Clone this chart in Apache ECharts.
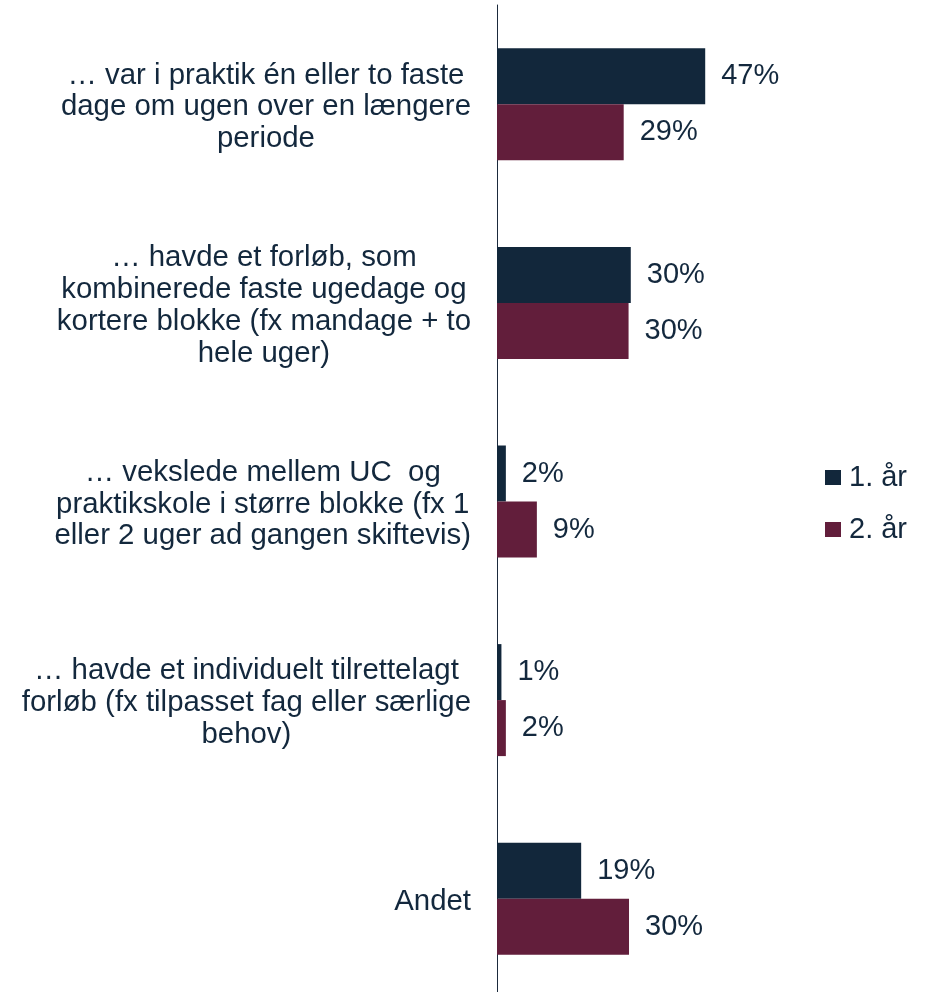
<!DOCTYPE html>
<html>
<head>
<meta charset="utf-8">
<script src="https://cdn.jsdelivr.net/npm/echarts@6/dist/echarts.min.js"></script>
<style>
  html, body { margin: 0; padding: 0; background: #fff; overflow: hidden; }
  #chart { width: 940px; height: 1000px; }
</style>
</head>
<body>
<div id="chart"></div>
<script>
// categories (top to bottom)
const categories = [
    '… var i praktik én eller to faste\ndage om ugen over en længere\nperiode',
    '… havde et forløb, som\nkombinerede faste ugedage og\nkortere blokke (fx mandage + to\nhele uger)',
    '… vekslede mellem UC  og\npraktikskole i større blokke (fx 1\neller 2 uger ad gangen skiftevis)',
    '… havde et individuelt tilrettelagt\nforløb (fx tilpasset fag eller særlige\nbehov)',
    'Andet'
]
const seriesNames = ['1. år', '2. år']
const year1 = [47.0, 30.2, 2.0, 1.0, 19.0]
const year2 = [28.6, 29.7, 9.0, 2.0, 29.8]

const textColor = '#13283d'
const font = 'Liberation Sans, Arial, sans-serif'
const colors = ['#12273b', '#621e3b']

const chart = echarts.init(document.getElementById('chart'))

function barSeries(name, data, color) {
    return {
        name: name,
        type: 'bar',
        data: data,
        barWidth: 56,
        barGap: '0%',
        itemStyle: { color: color },
        label: {
            show: true,
            position: 'right',
            distance: 16,
            color: textColor,
            fontFamily: font,
            fontSize: 29,
            formatter: p => Math.round(p.value) + '%'
        }
    }
}

const options = {
    animation: false,
    backgroundColor: '#fff',
    grid: {
        left: 497,
        top: 5,
        width: 443,
        height: 993
    },
    legend: {
        orient: 'vertical',
        left: 820,
        top: 458,
        icon: 'rect',
        itemWidth: 16,
        itemHeight: 15,
        itemGap: 23,
        textStyle: {
            color: textColor,
            fontFamily: font,
            fontSize: 29,
            padding: [0, 0, 0, 3]
        },
        data: seriesNames
    },
    xAxis: {
        type: 'value',
        min: 0,
        max: 100,
        show: false
    },
    yAxis: {
        type: 'category',
        inverse: true,
        data: categories,
        axisLine: { show: true, lineStyle: { color: '#1b2a3c', width: 1 } },
        axisTick: { show: false },
        splitLine: { show: false },
        axisLabel: {
            margin: 26,
            padding: [6, 0, 0, 0],
            formatter: v => v.split('\n').map(l => '{c|' + l + '}').join('\n'),
            rich: {
                c: {
                    align: 'center',
                    color: textColor,
                    fontFamily: font,
                    fontSize: 29.4,
                    lineHeight: 31.8
                }
            }
        }
    },
    series: [
        barSeries(seriesNames[0], year1, colors[0]),
        barSeries(seriesNames[1], year2, colors[1])
    ]
}

chart.setOption(options)
</script>
</body>
</html>
